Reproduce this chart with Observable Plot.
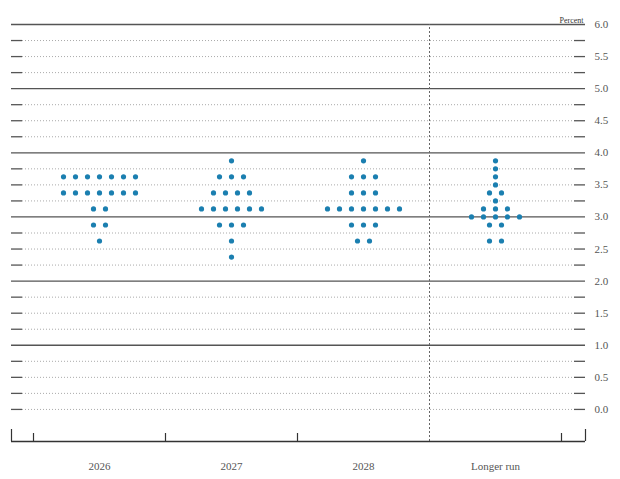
<!DOCTYPE html>
<html>
<head>
<meta charset="utf-8">
<script src="https://cdn.jsdelivr.net/npm/d3@7"></script>
<script src="https://cdn.jsdelivr.net/npm/@observablehq/plot@0.6"></script>
<style>
  html, body { margin: 0; padding: 0; background: #fff; }
  #chart svg { display: block; }
</style>
</head>
<body>
<div id="chart"></div>
<script>
// ---- Data ----
const categories = ["2026", "2027", "2028", "Longer run"];

const rates2026 = [3.625, 3.375, 3.125, 2.875, 2.625];
const counts2026 = [7, 7, 2, 2, 1];

const rates2027 = [3.875, 3.625, 3.375, 3.125, 2.875, 2.625, 2.375];
const counts2027 = [1, 3, 4, 6, 3, 1, 1];

const rates2028 = [3.875, 3.625, 3.375, 3.125, 2.875, 2.625];
const counts2028 = [1, 3, 3, 7, 3, 2];

const ratesLonger = [3.875, 3.75, 3.625, 3.5, 3.375, 3.25, 3.125, 3.0, 2.875, 2.625];
const countsLonger = [1, 1, 1, 1, 2, 1, 3, 5, 2, 2];

const yTickLabels = ["0.0","0.5","1.0","1.5","2.0","2.5","3.0","3.5","4.0","4.5","5.0","5.5","6.0"];

// ---- Build dot table ----
const series = [
  [rates2026, counts2026],
  [rates2027, counts2027],
  [rates2028, counts2028],
  [ratesLonger, countsLonger]
];
const unitPx = 132;          // pixels per category band
const dotStep = 12 / unitPx; // horizontal spacing between dots in a row
const dots = [];
series.forEach(([rates, counts], ci) => {
  rates.forEach((r, k) => {
    const n = counts[k];
    for (let j = 0; j < n; j++) {
      dots.push({cat: categories[ci], x: ci + 0.5 + (j - (n - 1) / 2) * dotStep, rate: r});
    }
  });
});

// ---- Scale geometry ----
const xDomain = [-22 / unitPx, 4 + 24 / unitPx];
const yDomain = [-0.5, 6];
const levels = d3.range(0, 6.0001, 0.25);
const solidLevels = levels.filter(v => v >= 1 && Number.isInteger(v));
const dottedLevels = levels.filter(v => !(v >= 1 && Number.isInteger(v)));
const tickLen = 11 / unitPx;
const yUnitPx = 417 / 6.5;

const font = "'Liberation Serif', 'Times New Roman', serif";

const chart = Plot.plot({
  width: 620,
  height: 479,
  marginLeft: 11,
  marginRight: 35,
  marginTop: 24,
  marginBottom: 38,
  style: {fontFamily: font, color: "#444", background: "#fff"},
  x: {domain: xDomain},
  y: {domain: yDomain},
  marks: [
    // dotted horizontal guides
    Plot.ruleY(dottedLevels, {x1: xDomain[0] + tickLen, x2: xDomain[1] - tickLen, stroke: "#aaa", strokeWidth: 1, strokeDasharray: "1,2"}),
    // short solid ticks at both ends
    Plot.ruleY(dottedLevels, {x1: xDomain[0], x2: xDomain[0] + tickLen, stroke: "#555", strokeWidth: 1.3}),
    Plot.ruleY(dottedLevels, {x1: xDomain[1] - tickLen, x2: xDomain[1], stroke: "#555", strokeWidth: 1.3}),
    // solid integer lines
    Plot.ruleY(solidLevels, {stroke: "#555", strokeWidth: 1.3}),
    // separator before longer run
    Plot.ruleX([3], {y1: yDomain[0], y2: yDomain[1], stroke: "#666", strokeWidth: 1, strokeDasharray: "2,2"}),
    // bottom axis line
    Plot.ruleY([yDomain[0]], {stroke: "#333", strokeWidth: 1.5}),
    // bottom ticks at band boundaries
    Plot.ruleX([0, 1, 2, 4], {y1: yDomain[0], y2: yDomain[0] + 8 / yUnitPx, stroke: "#333", strokeWidth: 1.2}),
    Plot.ruleX([xDomain[0], xDomain[1]], {y1: yDomain[0], y2: yDomain[0] + 12 / yUnitPx, stroke: "#333", strokeWidth: 1.2}),
    // dots
    Plot.dot(dots, {x: "x", y: "rate", r: 2.6, fill: "#1b7fb0", stroke: "none"}),
    // axes
    Plot.axisY({anchor: "right", ticks: yTickLabels.map(Number), tickFormat: d => yTickLabels.find(s => Number(s) === d), tickSize: 0, tickPadding: 9, fontSize: 11, label: null, fill: "#555"}),
    Plot.axisX({anchor: "bottom", ticks: categories.map((c, i) => i + 0.5), tickFormat: d => categories[Math.floor(d)], tickSize: 0, tickPadding: 21, fontSize: 11, label: null, fill: "#555"}),
    Plot.text(["Percent"], {frameAnchor: "top-right", dy: -7, dx: -2, textAnchor: "end", fontSize: 8, fill: "#333"})
  ]
});
document.getElementById("chart").appendChild(chart);
</script>
</body>
</html>
